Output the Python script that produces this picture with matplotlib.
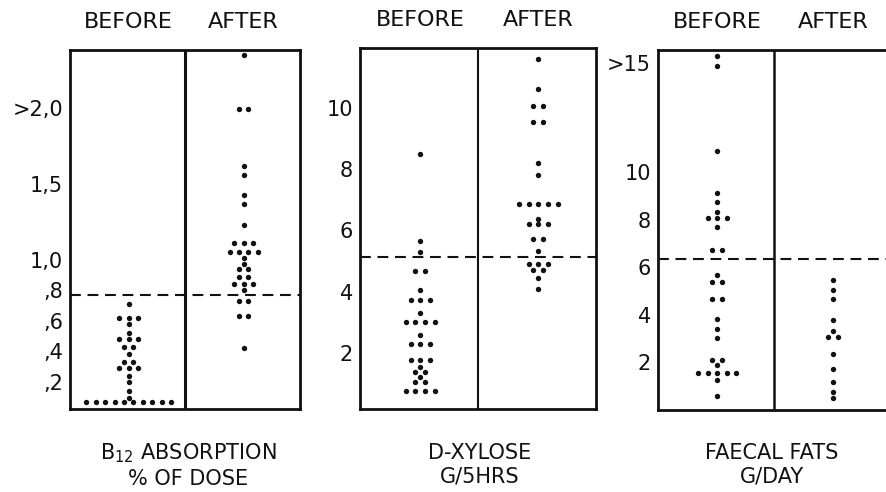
import numpy as np
import matplotlib.pyplot as plt

# each row of a dot plot: (value, number of patients at that level)
b12_before = [(0.71, 1), (0.62, 3), (0.58, 1), (0.52, 1), (0.48, 3), (0.43, 2),
              (0.38, 1), (0.33, 2), (0.29, 3), (0.24, 1), (0.20, 1), (0.14, 1),
              (0.09, 1), (0.066, 10)]
b12_after = [(2.35, 1), (1.99, 2), (1.62, 1), (1.56, 1), (1.43, 1), (1.37, 1),
             (1.23, 1), (1.11, 3), (1.05, 4), (1.01, 1), (0.97, 1), (0.94, 2),
             (0.89, 2), (0.84, 3), (0.80, 1), (0.73, 2), (0.63, 2), (0.42, 1)]

xylose_before = [(8.50, 1), (5.66, 1), (5.30, 1), (4.68, 2), (4.04, 1), (3.71, 3),
                 (3.30, 1), (3.00, 4), (2.57, 1), (2.29, 3), (1.75, 3), (1.52, 1),
                 (1.36, 2), (1.21, 1), (1.03, 2), (0.75, 4)]
xylose_after = [(11.60, 1), (10.62, 1), (10.06, 2), (9.54, 2), (8.20, 1), (7.82, 1),
                (6.87, 5), (6.37, 1), (6.21, 3), (5.73, 2), (5.32, 1), (4.91, 3),
                (4.71, 2), (4.44, 1), (4.08, 1)]

fats_before = [(14.90, 1), (14.48, 1), (10.90, 1), (9.13, 1), (8.72, 1), (8.32, 1),
               (8.06, 3), (7.67, 1), (6.72, 2), (5.65, 1), (5.36, 2), (4.64, 2),
               (3.83, 1), (3.41, 1), (3.00, 1), (2.08, 2), (1.87, 1), (1.55, 5),
               (1.24, 1), (0.57, 1)]
fats_after = [(5.45, 1), (5.03, 1), (4.64, 1), (3.77, 1), (3.31, 1), (3.07, 2),
              (2.33, 1), (1.69, 1), (1.17, 1), (0.75, 1), (0.47, 1)]

# upper limit of normal (dashed line)
normal_limits = [0.77, 5.12, 6.35]

b12_ticks = [0.2, 0.4, 0.6, 0.8, 1.0, 1.5, 2.0]
b12_labels = [',2', ',4', ',6', ',8', '1,0', '1,5', '>2,0']
xylose_ticks = [2, 4, 6, 8, 10]
xylose_labels = ['2', '4', '6', '8', '10']
fats_ticks = [2, 4, 6, 8, 10, 14.6]
fats_labels = ['2', '4', '6', '8', '10', '>15']

titles = ['B$_{12}$ ABSORPTION\n% OF DOSE', 'D-XYLOSE\nG/5HRS', 'FAECAL FATS\nG/DAY']

INK = '#111111'
STEP = 0.082  # horizontal spacing of dots in a row


def dot_xy(rows, center):
    xs, ys = [], []
    for value, n in rows:
        offs = (np.arange(n) - (n - 1) / 2) * STEP
        xs.extend(center + offs)
        ys.extend([value] * n)
    return xs, ys


def draw_panel(ax, before, after, normal, ylim, ticks, labels, divider_lw):
    for rows, cx in [(before, 0.51), (after, 1.51)]:
        xs, ys = dot_xy(rows, cx)
        ax.scatter(xs, ys, s=15, color=INK, linewidths=0, zorder=3)
    ax.axvline(1.0, color=INK, lw=divider_lw)
    ax.axhline(normal, color=INK, lw=1.5, linestyle=(0, (5.2, 3.2)))
    ax.set_xlim(0, 2)
    ax.set_ylim(*ylim)
    ax.set_xticks([])
    ax.set_yticks(ticks)
    ax.set_yticklabels(labels)
    ax.tick_params(axis='y', length=0, pad=5, labelsize=15, labelcolor=INK)
    for sp in ax.spines.values():
        sp.set_linewidth(2)
        sp.set_color(INK)
    for cx, txt in [(0.51, 'BEFORE'), (1.51, 'AFTER')]:
        ax.text(cx, 1.078, txt, transform=ax.get_xaxis_transform(),
                ha='center', va='center', fontsize=16, color=INK)


fig = plt.figure(figsize=(8.86, 4.92), dpi=100)
W, H = 886, 492

ax1 = fig.add_axes([70 / W, 1 - 409 / H, 230 / W, 359 / H])
ax2 = fig.add_axes([360 / W, 1 - 409 / H, 236 / W, 361 / H])
ax3 = fig.add_axes([658 / W, 1 - 410 / H, 232 / W, 360 / H])

draw_panel(ax1, b12_before, b12_after, normal_limits[0], (0.02, 2.38),
           b12_ticks, b12_labels, 2.2)
draw_panel(ax2, xylose_before, xylose_after, normal_limits[1], (0.16, 11.96),
           xylose_ticks, xylose_labels, 1.5)
draw_panel(ax3, fats_before, fats_after, normal_limits[2], (-0.02, 15.14),
           fats_ticks, fats_labels, 1.8)

for xc, txt in zip([188, 480, 772], titles):
    fig.text(xc / W, 1 - 465 / H, txt, ha='center', va='center',
             fontsize=15, color=INK, linespacing=1.25)

fig.savefig('out.png', dpi=100, facecolor='white')
